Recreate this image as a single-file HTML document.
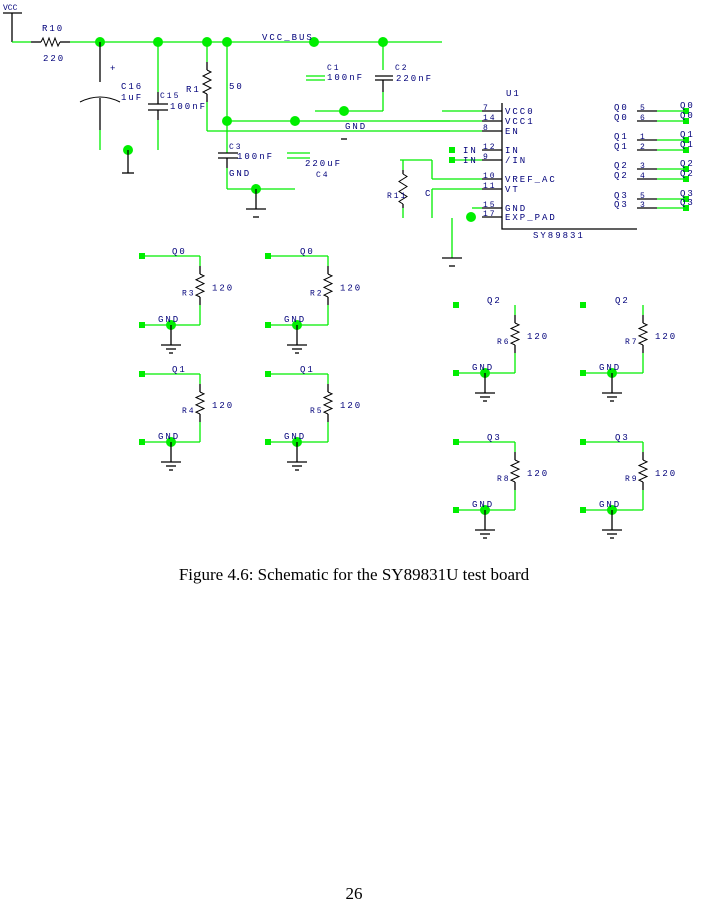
<!DOCTYPE html>
<html><head><meta charset="utf-8"><style>
html,body{margin:0;padding:0;background:#fff;width:708px;height:903px;overflow:hidden}
svg{position:absolute;left:0;top:0}
.cap{position:absolute;left:0;width:708px;text-align:center;font-family:"Liberation Serif",serif;font-size:17px;color:#000}
</style></head><body>
<svg id="s" width="708" height="560" font-family="Liberation Mono, monospace" font-size="9" fill="#00007a"></svg>
<div class="cap" style="top:565px">Figure 4.6: Schematic for the SY89831U test board</div>
<div class="cap" style="top:884px">26</div>
<script>
const s=document.getElementById('s');const NS='http://www.w3.org/2000/svg';
const G='#00ee00',K='#000';
function el(t,a,txt){const e=document.createElementNS(NS,t);for(const k in a)e.setAttribute(k,a[k]);if(txt!==undefined)e.textContent=txt;s.appendChild(e);return e;}
function ln(x1,y1,x2,y2,c){return el('line',{x1,y1,x2,y2,stroke:c||G,'stroke-width':1.3});}
function dot(x,y){return el('circle',{cx:x,cy:y,r:5,fill:G});}
function sq(x,y){return el('rect',{x:x-3,y:y-3,width:6,height:6,fill:G});}
function tx(x,y,t,o){const e=el('text',Object.assign({x,y,'letter-spacing':'2'},o||{}),t);return e;}
function resV(x,y1,y2,m){m=m||8;let p='M'+x+' '+(y1+m);const n=6,h=(y2-y1-2*m)/n;for(let i=0;i<n;i++)p+=' L'+(x+(i%2?-4:4))+' '+(y1+m+h*(i+0.5));p+=' L'+x+' '+(y2-m);el('path',{d:p,stroke:K,fill:'none','stroke-width':1});ln(x,y1,x,y1+m,K);ln(x,y2-m,x,y2,K);}
function gnd(x,y,w){ln(x-w,y,x+w,y,K);}
// VCC + R10
tx(3,10,'VCC',{'letter-spacing':0,'font-size':8});ln(3,13,22,13,K);ln(12,13,12,42,K);ln(12,42,31,42);
ln(31,42,41,42,K);el('path',{d:'M41 42 l2 -4 l3 8 l3 -8 l3 8 l3 -8 l3 8 l2 -4',stroke:K,fill:'none'});ln(60,42,70,42,K);
tx(42,31,'R10');tx(43,61,'220');
ln(70,42,442,42);[100,158,207,227,314,383].forEach(x=>dot(x,42));
tx(262,40,'VCC_BUS');
// C16
ln(100,42,100,82,K);el('path',{d:'M80 102 Q100 92 120 102',stroke:K,fill:'none'});ln(100,98,100,130,K);ln(100,130,100,150);
tx(110,71,'+');tx(121,89,'C16');tx(121,100,'1uF');
// C15
ln(158,42,158,92);ln(148,104,168,104,K);ln(148,110,168,110,K);ln(158,92,158,104,K);ln(158,110,158,120,K);ln(158,120,158,150);
tx(160,98,'C15',{'font-size':8});tx(170,109,'100nF');
dot(128,150);ln(128,150,128,173,K);gnd(128,173,6);
// R1
ln(207,42,207,62);resV(207,62,102);ln(207,102,207,131);ln(207,131,450,131);tx(186,92,'R1');tx(229,89,'50');
// 227 branch
ln(227,42,227,121);dot(227,121);ln(227,121,450,121);dot(295,121);tx(345,129,'GND');ln(341,139,347,139,K);
ln(227,121,227,153);ln(218,153,238,153,K);ln(218,158,238,158,K);ln(227,158,227,168,K);ln(227,168,227,189);
ln(227,189,295,189);dot(256,189);ln(256,189,256,209,K);gnd(256,209,10);ln(253,217,259,217,K);
tx(229,149,'C3',{'font-size':8});tx(237,159,'100nF');tx(229,176,'GND');
ln(287,153,310,153);ln(287,158,310,158);tx(305,166,'220uF');tx(316,177,'C4',{'font-size':8});
// C1, C2
ln(306,76,325,76);ln(306,80,325,80);tx(327,70,'C1',{'font-size':8});tx(327,80,'100nF');
ln(383,42,383,70);ln(375,76,393,76,K);ln(375,80,393,80,K);ln(383,80,383,92,K);ln(383,92,383,111);ln(315,111,383,111);dot(344,111);
tx(395,70,'C2',{'font-size':8});tx(396,81,'220nF');
// U1
el('polyline',{points:'502,103 502,229 637,229',stroke:K,fill:'none','stroke-width':1.3});
tx(506,96,'U1');tx(533,238,'SY89831');
const pins=[[111,'7','VCC0'],[121,'14','VCC1'],[131,'8','EN'],[150,'12','IN'],[160,'9','/IN'],[179,'10','VREF_AC'],[189,'11','VT'],[208,'15','GND'],[217,'17','EXP_PAD']];
pins.forEach(p=>{ln(482,p[0],502,p[0],K);tx(483,p[0]-1,p[1],{'font-size':8});tx(505,p[0]+3,p[2]);});
ln(442,111,482,111);ln(420,121,482,121);ln(420,131,482,131);ln(452,160,482,160);sq(452,150);sq(452,160);
tx(463,153,'IN');tx(463,163,'IN');
ln(400,160,432,160);ln(432,160,432,179);ln(432,179,482,179);ln(432,189,482,189);ln(432,189,432,218);
ln(472,208,482,208);dot(471,217);ln(452,218,452,258);gnd(452,258,10);ln(449,266,455,266,K);
ln(403,160,403,170);resV(403,170,208,4);ln(403,208,403,218);tx(387,198,'R11',{'font-size':8});tx(425,196,'C');
const outs=[[111,'Q0',5],[121,'/Q0',6],[140,'Q1',1],[150,'/Q1',2],[169,'Q2',3],[179,'/Q2',4],[199,'Q3',5],[208,'/Q3',3]];
outs.forEach(o=>{ln(637,o[0],657,o[0],K);ln(657,o[0],686,o[0]);sq(686,o[0]);tx(614,o[0]-1,o[1].replace('/',''));tx(640,o[0]-1,String(o[2]),{'font-size':8});tx(680,o[0]-3,o[1].replace('/',''));});
// termination blocks
function blk(x0,y0,xr,y1,lab,rn,top){
 sq(x0,y0);if(top)ln(x0,y0,xr,y0);ln(xr,y0,xr,y0+10);resV(xr,y0+10,y1-20);ln(xr,y1-20,xr,y1);ln(x0,y1,xr,y1);sq(x0,y1);
 const dx=x0+29;dot(dx,y1);ln(dx,y1,dx,y1+20,K);gnd(dx,y1+20,10);ln(dx-5,y1+24,dx+5,y1+24,K);ln(dx-2,y1+28,dx+2,y1+28,K);
 tx(xr-28,y0-2,lab);tx(x0+16,y1-3,'GND');tx(xr-18,(y0+y1)/2+5,rn,{'font-size':8});tx(xr+12,(y0+y1)/2,'120');
}
blk(142,256,200,325,'Q0','R3',1);blk(268,256,328,325,'Q0','R2',1);
blk(142,374,200,442,'Q1','R4',1);blk(268,374,328,442,'Q1','R5',1);
blk(456,305,515,373,'Q2','R6',0);blk(583,305,643,373,'Q2','R7',0);
blk(456,442,515,510,'Q3','R8',1);blk(583,442,643,510,'Q3','R9',1);
</script>
</body></html>
